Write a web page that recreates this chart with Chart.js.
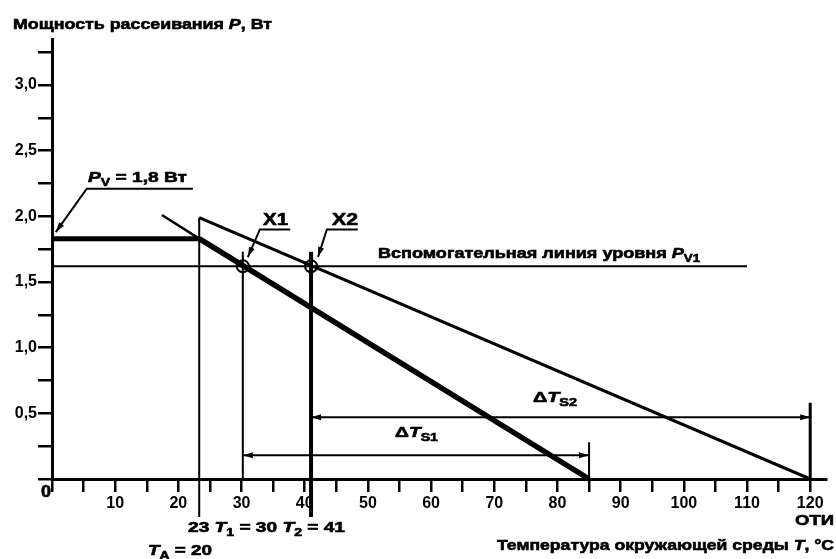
<!DOCTYPE html>
<html lang="ru">
<head>
    <meta charset="UTF-8">
    <title>Мощность рассеивания</title>
    <style>
        body {
            margin: 0;
            background-color: #fff;
        }
        #wrap {
            width: 836px;
            height: 559px;
        }
    </style>
    <script src="https://cdn.jsdelivr.net/npm/chart.js"></script>
</head>
<body>
    <div id="wrap"><canvas id="pdChart" width="836" height="559"></canvas></div>

    <script>
        // values: temperature T, °C and power P, W
        const curve1T = [17.4, 23.3, 85];      // thin start, then thick line
        const curve1P = [2.01, 1.83, 0];
        const curve2T = [23.3, 120];
        const curve2P = [1.99, 0];

        const pvT = [0, 23.3];                 // P_V = 1,8 W
        const pvP = [1.83, 1.83];
        const auxT = [0, 110];                 // auxiliary level P_V1
        const auxP = [1.62, 1.62];

        const vert23T = [23.3, 23.3];
        const vert23P = [1.99, -0.29];
        const t1T = [30.2, 30.2];
        const t1P = [1.73, 0];
        const t2T = [41, 41];
        const t2P = [1.73, -0.29];

        const crossT = [30.2, 41];             // X1, X2
        const crossP = [1.62, 1.62];

        const dTs1T = [30.2, 85];
        const dTs1P = [0.18, 0.18];
        const dTs2T = [41, 120];
        const dTs2P = [0.47, 0.47];
        const ext85T = [85, 85];
        const ext85P = [0.28, 0];
        const ext120T = [120, 120];
        const ext120P = [0.58, 0];

        const pvLeaderT = [22.3, 5.5, 0.6];
        const pvLeaderP = [2.21, 2.21, 1.88];
        const x1LeaderT = [37.7, 32.9, 31.0];
        const x1LeaderP = [1.90, 1.90, 1.69];
        const x2LeaderT = [48.4, 43.5, 42.1];
        const x2LeaderP = [1.90, 1.90, 1.69];

        const xStep = 5;
        const yStep = 0.25;

        function pts(T, P) {
            return T.map((t, i) => ({x: t, y: P[i]}));
        }

        function line(T, P, width, extra) {
            return Object.assign({
                data: pts(T, P),
                showLine: true,
                borderColor: '#000',
                backgroundColor: '#000',
                borderWidth: width,
                pointRadius: 0,
                fill: false,
                clip: false
            }, extra || {});
        }

        const datasets = [
            line(curve1T.slice(0, 2), curve1P.slice(0, 2), 2.5),
            line(curve1T.slice(1), curve1P.slice(1), 5.5),
            line(curve2T, curve2P, 3),
            line(pvT, pvP, 5),
            line(auxT, auxP, 2),
            line(vert23T, vert23P, 2),
            line(t1T, t1P, 2),
            line(t2T, t2P, 4),
            line(dTs1T, dTs1P, 2, {arrows: 'both'}),
            line(dTs2T, dTs2P, 2, {arrows: 'both'}),
            line(ext85T, ext85P, 2),
            line(ext120T, ext120P, 3),
            line(pvLeaderT, pvLeaderP, 2, {arrows: 'end'}),
            line(x1LeaderT, x1LeaderP, 2, {arrows: 'end'}),
            line(x2LeaderT, x2LeaderP, 2, {arrows: 'end'}),
            {
                data: pts(crossT, crossP),
                showLine: false,
                pointStyle: 'circle',
                pointRadius: 6,
                borderWidth: 2,
                borderColor: '#000',
                backgroundColor: 'rgba(0,0,0,0)',
                clip: false
            }
        ];

        // text pieces: '' plain, 'i' italic, 's' subscript
        const labels = [
            {x: 13, y: 29, w: 259, parts: [['Мощность рассеивания ', ''], ['P', 'i'], [', Вт', '']]},
            {x: 88, y: 182, w: 99, parts: [['P', 'i'], ['V', 's'], [' = 1,8 Вт', '']]},
            {x: 263, y: 225, w: 25, size: 16, parts: [['X1', '']]},
            {x: 332, y: 225, w: 26, size: 16, parts: [['X2', '']]},
            {x: 378, y: 258, w: 322, parts: [['Вспомогательная линия уровня ', ''], ['P', 'i'], ['V1', 's']]},
            {x: 533, y: 402, w: 44, parts: [['Δ', ''], ['T', 'i'], ['S2', 's']]},
            {x: 395, y: 437, w: 43, parts: [['Δ', ''], ['T', 'i'], ['S1', 's']]},
            {x: 188, y: 532, w: 157, parts: [['23 ', ''], ['T', 'i'], ['1', 's'], [' = 30 ', ''], ['T', 'i'], ['2', 's'], [' = 41', '']]},
            {x: 148, y: 555, w: 64, parts: [['T', 'i'], ['A', 's'], [' = 20', '']]},
            {x: 834, y: 525, w: 39, align: 'right', parts: [['ОТИ', '']]},
            {x: 834, y: 550, w: 337, align: 'right', parts: [['Температура окружающей среды ', ''], ['T', 'i'], [', °C', '']]},
            {x: 41, y: 497, w: 10, size: 16, parts: [['0', '']]}
        ];

        const FAMILY = '"Liberation Sans", Arial, sans-serif';

        function fontFor(style, size) {
            const s = style.indexOf('s') >= 0 ? Math.round(size * 0.75) : size;
            return (style.indexOf('i') >= 0 ? 'italic ' : '') + 'bold ' + s + 'px ' + FAMILY;
        }

        function drawLabel(ctx, lab) {
            const size = lab.size || 15;
            let natural = 0;
            lab.parts.forEach(p => {
                ctx.font = fontFor(p[1], size);
                natural += ctx.measureText(p[0]).width;
            });
            const sx = lab.w / natural;
            let cx = lab.align === 'right' ? lab.x - lab.w : lab.x;
            lab.parts.forEach(p => {
                ctx.font = fontFor(p[1], size);
                const dy = p[1].indexOf('s') >= 0 ? 4 : 0;
                ctx.save();
                ctx.translate(cx, lab.y + dy);
                ctx.scale(sx, 1);
                ctx.fillText(p[0], 0, 0);
                ctx.strokeText(p[0], 0, 0);   // scanned text looks heavier
                ctx.restore();
                cx += ctx.measureText(p[0]).width * sx;
            });
        }

        function arrowHead(ctx, tip, from) {
            const a = Math.atan2(tip.y - from.y, tip.x - from.x);
            const len = 10, hw = 3;
            ctx.save();
            ctx.translate(tip.x, tip.y);
            ctx.rotate(a);
            ctx.beginPath();
            ctx.moveTo(0, 0);
            ctx.lineTo(-len, -hw);
            ctx.lineTo(-len, hw);
            ctx.closePath();
            ctx.fill();
            ctx.restore();
        }

        const annotations = {
            id: 'annotations',
            afterDatasetsDraw(chart) {
                const ctx = chart.ctx;
                ctx.save();
                ctx.fillStyle = '#000';
                ctx.strokeStyle = '#000';
                ctx.lineWidth = 0.6;
                chart.data.datasets.forEach((ds, i) => {
                    if (!ds.arrows) return;
                    const el = chart.getDatasetMeta(i).data;
                    const n = el.length;
                    arrowHead(ctx, el[n - 1], el[n - 2]);
                    if (ds.arrows === 'both') arrowHead(ctx, el[0], el[1]);
                });
                ctx.textBaseline = 'alphabetic';
                ctx.textAlign = 'left';
                labels.forEach(lab => drawLabel(ctx, lab));
                ctx.restore();
            }
        };

        const tickFont = {family: FAMILY, weight: 'bold', size: 16};

        new Chart(document.getElementById('pdChart'), {
            type: 'scatter',
            data: {datasets: datasets},
            plugins: [annotations],
            options: {
                responsive: false,
                animation: false,
                layout: {padding: {top: 39, right: 10, left: 0, bottom: 0}},
                plugins: {
                    legend: {display: false},
                    tooltip: {enabled: false}
                },
                scales: {
                    x: {
                        type: 'linear',
                        min: 0,
                        max: 122.5,
                        afterFit(s) { s.height = 80; },
                        border: {display: true, color: '#000', width: 3},
                        grid: {drawOnChartArea: false, color: '#000', lineWidth: 2.5, tickLength: 13},
                        ticks: {
                            stepSize: xStep,
                            includeBounds: false,
                            autoSkip: false,
                            maxRotation: 0,
                            padding: 2,
                            color: '#000',
                            font: tickFont,
                            callback: v => (v > 0 && v % 10 === 0) ? String(v) : ''
                        }
                    },
                    y: {
                        type: 'linear',
                        min: 0,
                        max: 3.35,
                        afterFit(s) { s.width = 52; },
                        border: {display: true, color: '#000', width: 3},
                        grid: {drawOnChartArea: false, color: '#000', lineWidth: 2.5, tickLength: 14},
                        ticks: {
                            stepSize: yStep,
                            includeBounds: false,
                            autoSkip: false,
                            padding: 1,
                            color: '#000',
                            font: tickFont,
                            callback: v => (v > 0 && Math.abs(v % 0.5) < 1e-9) ? v.toFixed(1).replace('.', ',') : ''
                        }
                    }
                }
            }
        });
    </script>
</body>
</html>
